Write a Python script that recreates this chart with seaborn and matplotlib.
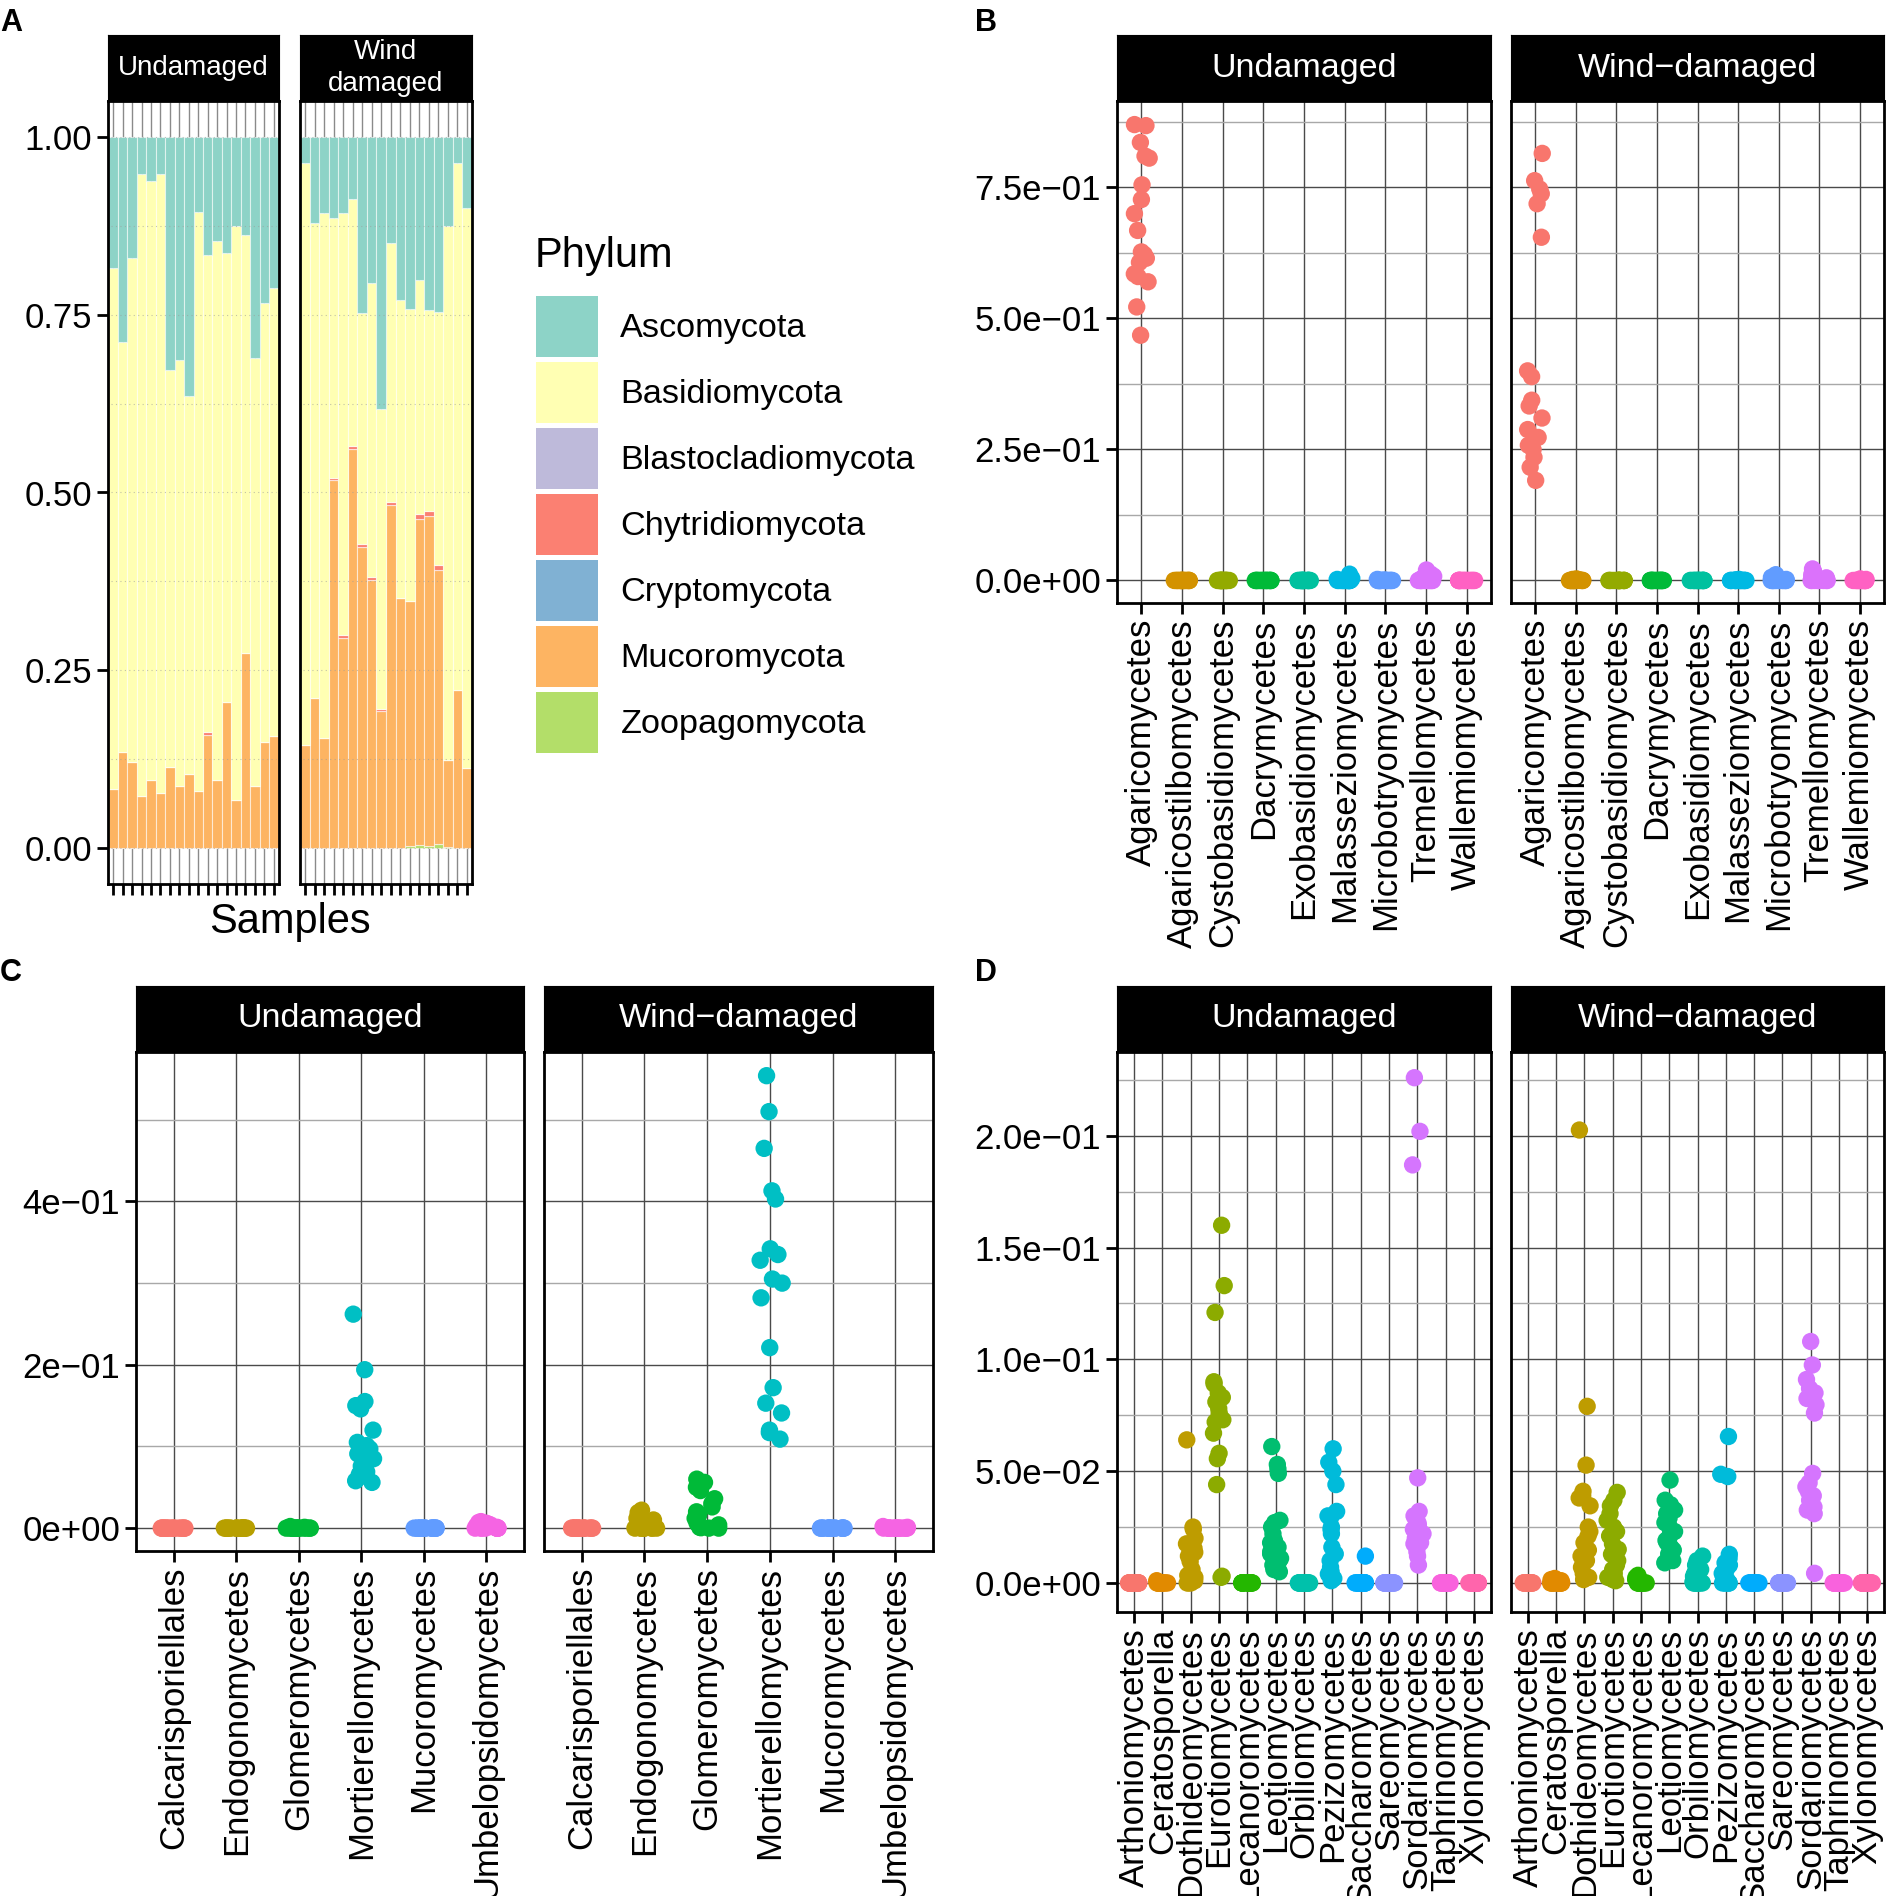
import numpy as np
import pandas as pd
import matplotlib
matplotlib.use("Agg")
import matplotlib.pyplot as plt
from matplotlib.patches import Patch
import seaborn as sns

# ---------------- Panel A: abundancia relativa por filo (18 muestras por grupo)
phyla = ["Ascomycota", "Basidiomycota", "Blastocladiomycota", "Chytridiomycota",
         "Cryptomycota", "Mucoromycota", "Zoopagomycota"]
phylum_colors = ["#8DD3C7", "#FFFFB3", "#BEBADA", "#FB8072", "#80B1D3", "#FDB462", "#B3DE69"]

und_asco = [0.185, 0.289, 0.171, 0.053, 0.062, 0.052, 0.328, 0.314, 0.365,
            0.106, 0.167, 0.147, 0.163, 0.126, 0.138, 0.311, 0.234, 0.213]
und_basidio = [0.732, 0.575, 0.708, 0.874, 0.842, 0.870, 0.558, 0.598, 0.531,
               0.814, 0.670, 0.757, 0.632, 0.806, 0.588, 0.602, 0.617, 0.629]
und_blasto = [0, 0, 0, 0, 0, 0, 0, 0, 0, 0, 0, 0, 0, 0, 0, 0, 0, 0]
und_chytrid = [0, 0, 0, 0, 0, 0, 0, 0, 0, 0, 0.004, 0, 0, 0, 0, 0, 0, 0]
und_crypto = [0, 0, 0, 0, 0, 0, 0, 0, 0, 0, 0, 0, 0, 0, 0, 0, 0, 0]
und_muco = [0.083, 0.136, 0.121, 0.073, 0.096, 0.078, 0.113, 0.087, 0.104,
            0.080, 0.159, 0.096, 0.205, 0.068, 0.274, 0.087, 0.149, 0.158]
und_zoo = [0, 0, 0, 0, 0, 0, 0.001, 0.001, 0, 0, 0, 0, 0, 0, 0, 0, 0, 0]

wind_asco = [0.037, 0.121, 0.108, 0.114, 0.107, 0.088, 0.248, 0.206, 0.382,
             0.150, 0.230, 0.242, 0.201, 0.244, 0.247, 0.126, 0.037, 0.101]
wind_basidio = [0.818, 0.668, 0.737, 0.366, 0.593, 0.347, 0.325, 0.413, 0.422,
                0.364, 0.418, 0.411, 0.329, 0.282, 0.355, 0.750, 0.740, 0.786]
wind_blasto = [0, 0, 0, 0, 0, 0, 0, 0, 0, 0, 0, 0, 0, 0, 0, 0, 0, 0]
wind_chytrid = [0, 0, 0, 0.002, 0.004, 0.004, 0.004, 0.004, 0.003,
                0.004, 0, 0, 0.007, 0.007, 0.007, 0, 0, 0]
wind_crypto = [0, 0, 0, 0, 0, 0, 0, 0, 0, 0, 0, 0, 0, 0, 0, 0, 0, 0]
wind_muco = [0.145, 0.210, 0.155, 0.518, 0.296, 0.561, 0.423, 0.377, 0.193,
             0.482, 0.352, 0.344, 0.458, 0.464, 0.385, 0.122, 0.223, 0.112]
wind_zoo = [0, 0.001, 0, 0, 0, 0, 0, 0, 0, 0, 0, 0.003, 0.005, 0.003, 0.006, 0.002, 0, 0.001]

a_yticks = [0, 0.25, 0.5, 0.75, 1.0]
a_yticklabels = ["0.00", "0.25", "0.50", "0.75", "1.00"]

# ---------------- Panel B: clases de Basidiomycota
b_classes = ["Agaricomycetes", "Agaricostilbomycetes", "Cystobasidiomycetes", "Dacrymycetes",
             "Exobasidiomycetes", "Malasseziomycetes", "Microbotryomycetes",
             "Tremellomycetes", "Wallemiomycetes"]
b_und = [
    [0.870, 0.868, 0.836, 0.810, 0.806, 0.755, 0.727, 0.700, 0.668, 0.627, 0.622, 0.615, 0.607, 0.585, 0.580, 0.570, 0.522, 0.468],
    [0, 0, 0, 0, 0, 0, 0, 0, 0, 0, 0, 0, 0, 0, 0, 0, 0, 0],
    [0, 0, 0, 0, 0, 0, 0, 0, 0, 0, 0, 0, 0, 0, 0, 0, 0, 0],
    [0, 0, 0, 0, 0, 0, 0, 0, 0, 0, 0, 0, 0, 0, 0, 0, 0, 0],
    [0, 0, 0, 0, 0, 0, 0, 0, 0, 0, 0, 0, 0, 0, 0, 0, 0, 0],
    [0.012, 0.004, 0.002, 0.001, 0, 0, 0, 0, 0, 0, 0, 0, 0, 0, 0, 0, 0, 0],
    [0.002, 0.001, 0, 0, 0, 0, 0, 0, 0, 0, 0, 0, 0, 0, 0, 0, 0, 0],
    [0.020, 0.012, 0.008, 0.004, 0.002, 0.001, 0, 0, 0, 0, 0, 0, 0, 0, 0, 0, 0, 0],
    [0, 0, 0, 0, 0, 0, 0, 0, 0, 0, 0, 0, 0, 0, 0, 0, 0, 0],
]
b_wind = [
    [0.815, 0.763, 0.747, 0.738, 0.719, 0.655, 0.400, 0.389, 0.344, 0.333, 0.310, 0.288, 0.273, 0.258, 0.250, 0.235, 0.216, 0.191],
    [0.003, 0.002, 0.001, 0, 0, 0, 0, 0, 0, 0, 0, 0, 0, 0, 0, 0, 0, 0],
    [0, 0, 0, 0, 0, 0, 0, 0, 0, 0, 0, 0, 0, 0, 0, 0, 0, 0],
    [0, 0, 0, 0, 0, 0, 0, 0, 0, 0, 0, 0, 0, 0, 0, 0, 0, 0],
    [0, 0, 0, 0, 0, 0, 0, 0, 0, 0, 0, 0, 0, 0, 0, 0, 0, 0],
    [0.002, 0.001, 0, 0, 0, 0, 0, 0, 0, 0, 0, 0, 0, 0, 0, 0, 0, 0],
    [0.011, 0.006, 0.003, 0.002, 0.001, 0, 0, 0, 0, 0, 0, 0, 0, 0, 0, 0, 0, 0],
    [0.022, 0.020, 0.018, 0.015, 0.012, 0.008, 0.005, 0.003, 0.002, 0.001, 0, 0, 0, 0, 0, 0, 0, 0],
    [0.003, 0.002, 0.001, 0, 0, 0, 0, 0, 0, 0, 0, 0, 0, 0, 0, 0, 0, 0],
]
b_yticks = [0, 0.25, 0.5, 0.75]
b_yticklabels = ["0.0e+00", "2.5e\u221201", "5.0e\u221201", "7.5e\u221201"]

# ---------------- Panel C: clases de Mucoromycota
c_classes = ["Calcarisporiellales", "Endogonomycetes", "Glomeromycetes",
             "Mortierellomycetes", "Mucoromycetes", "Umbelopsidomycetes"]
c_und = [
    [0, 0, 0, 0, 0, 0, 0, 0, 0, 0, 0, 0, 0, 0, 0, 0, 0, 0],
    [0, 0, 0, 0, 0, 0, 0, 0, 0, 0, 0, 0, 0, 0, 0, 0, 0, 0],
    [0.002, 0.001, 0, 0, 0, 0, 0, 0, 0, 0, 0, 0, 0, 0, 0, 0, 0, 0],
    [0.262, 0.194, 0.155, 0.150, 0.146, 0.120, 0.105, 0.101, 0.097, 0.091, 0.085, 0.080, 0.076, 0.069, 0.066, 0.063, 0.058, 0.056],
    [0, 0, 0, 0, 0, 0, 0, 0, 0, 0, 0, 0, 0, 0, 0, 0, 0, 0],
    [0.008, 0.007, 0.006, 0.005, 0.004, 0.003, 0.002, 0.001, 0, 0, 0, 0, 0, 0, 0, 0, 0, 0],
]
c_wind = [
    [0, 0, 0, 0, 0, 0, 0, 0, 0, 0, 0, 0, 0, 0, 0, 0, 0, 0],
    [0.022, 0.019, 0.015, 0.012, 0.010, 0.008, 0.006, 0.004, 0.002, 0.001, 0, 0, 0, 0, 0, 0, 0, 0],
    [0.060, 0.056, 0.050, 0.046, 0.036, 0.030, 0.026, 0.020, 0.016, 0.012, 0.009, 0.006, 0.004, 0.002, 0.001, 0.0005, 0, 0],
    [0.554, 0.510, 0.465, 0.413, 0.403, 0.342, 0.335, 0.328, 0.305, 0.300, 0.282, 0.221, 0.172, 0.153, 0.141, 0.120, 0.117, 0.109],
    [0, 0, 0, 0, 0, 0, 0, 0, 0, 0, 0, 0, 0, 0, 0, 0, 0, 0],
    [0.002, 0.001, 0, 0, 0, 0, 0, 0, 0, 0, 0, 0, 0, 0, 0, 0, 0, 0],
]
c_yticks = [0, 0.2, 0.4]
c_yticklabels = ["0e+00", "2e\u221201", "4e\u221201"]

# ---------------- Panel D: clases de Ascomycota
d_classes = ["Arthoniomycetes", "Ceratosporella", "Dothideomycetes", "Eurotiomycetes",
             "Lecanoromycetes", "Leotiomycetes", "Orbiliomycetes", "Pezizomycetes",
             "Saccharomycetes", "Sareomycetes", "Sordariomycetes", "Taphrinomycetes",
             "Xylonomycetes"]
d_und = [
    [0, 0, 0, 0, 0, 0, 0, 0, 0, 0, 0, 0, 0, 0, 0, 0, 0, 0],
    [0.001, 0, 0, 0, 0, 0, 0, 0, 0, 0, 0, 0, 0, 0, 0, 0, 0, 0],
    [0.064, 0.025, 0.024, 0.020, 0.0175, 0.0156, 0.0137, 0.012, 0.0096, 0.006, 0.0034, 0.0025, 0.0015, 0.001, 0.0005, 0, 0, 0],
    [0.160, 0.133, 0.121, 0.090, 0.089, 0.085, 0.083, 0.081, 0.078, 0.076, 0.073, 0.072, 0.067, 0.058, 0.0556, 0.044, 0.003, 0.0025],
    [0, 0, 0, 0, 0, 0, 0, 0, 0, 0, 0, 0, 0, 0, 0, 0, 0, 0],
    [0.061, 0.053, 0.051, 0.049, 0.028, 0.027, 0.025, 0.022, 0.019, 0.018, 0.016, 0.014, 0.013, 0.011, 0.010, 0.008, 0.006, 0.005],
    [0, 0, 0, 0, 0, 0, 0, 0, 0, 0, 0, 0, 0, 0, 0, 0, 0, 0],
    [0.060, 0.054, 0.050, 0.044, 0.032, 0.030, 0.029, 0.025, 0.024, 0.022, 0.016, 0.013, 0.010, 0.007, 0.005, 0.004, 0.002, 0.001],
    [0.012, 0, 0, 0, 0, 0, 0, 0, 0, 0, 0, 0, 0, 0, 0, 0, 0, 0],
    [0, 0, 0, 0, 0, 0, 0, 0, 0, 0, 0, 0, 0, 0, 0, 0, 0, 0],
    [0.226, 0.202, 0.187, 0.047, 0.032, 0.030, 0.029, 0.027, 0.026, 0.024, 0.023, 0.022, 0.020, 0.018, 0.0175, 0.014, 0.012, 0.008],
    [0, 0, 0, 0, 0, 0, 0, 0, 0, 0, 0, 0, 0, 0, 0, 0, 0, 0],
    [0, 0, 0, 0, 0, 0, 0, 0, 0, 0, 0, 0, 0, 0, 0, 0, 0, 0],
]
d_wind = [
    [0, 0, 0, 0, 0, 0, 0, 0, 0, 0, 0, 0, 0, 0, 0, 0, 0, 0],
    [0.002, 0.0015, 0.001, 0.001, 0.0005, 0, 0, 0, 0, 0, 0, 0, 0, 0, 0, 0, 0, 0],
    [0.2026, 0.079, 0.0527, 0.041, 0.039, 0.038, 0.0345, 0.025, 0.023, 0.021, 0.018, 0.0147, 0.012, 0.010, 0.007, 0.0043, 0.0025, 0.0015],
    [0.0405, 0.037, 0.0345, 0.031, 0.028, 0.025, 0.023, 0.021, 0.0175, 0.015, 0.0128, 0.010, 0.008, 0.006, 0.0043, 0.0025, 0.0015, 0.001],
    [0.0034, 0.0025, 0.0015, 0.001, 0.0005, 0, 0, 0, 0, 0, 0, 0, 0, 0, 0, 0, 0, 0],
    [0.046, 0.037, 0.035, 0.0326, 0.031, 0.029, 0.027, 0.025, 0.023, 0.021, 0.019, 0.018, 0.016, 0.0147, 0.013, 0.012, 0.010, 0.009],
    [0.012, 0.010, 0.008, 0.006, 0.0043, 0.003, 0.0015, 0.001, 0.0005, 0, 0, 0, 0, 0, 0, 0, 0, 0],
    [0.0655, 0.0486, 0.0476, 0.0128, 0.011, 0.009, 0.008, 0.006, 0.0043, 0.003, 0.0015, 0.001, 0, 0, 0, 0, 0, 0],
    [0, 0, 0, 0, 0, 0, 0, 0, 0, 0, 0, 0, 0, 0, 0, 0, 0, 0],
    [0, 0, 0, 0, 0, 0, 0, 0, 0, 0, 0, 0, 0, 0, 0, 0, 0, 0],
    [0.108, 0.0975, 0.091, 0.087, 0.085, 0.0825, 0.0797, 0.076, 0.049, 0.0448, 0.043, 0.041, 0.039, 0.037, 0.034, 0.0326, 0.031, 0.0043],
    [0, 0, 0, 0, 0, 0, 0, 0, 0, 0, 0, 0, 0, 0, 0, 0, 0, 0],
    [0, 0, 0, 0, 0, 0, 0, 0, 0, 0, 0, 0, 0, 0, 0, 0, 0, 0],
]
d_yticks = [0, 0.05, 0.1, 0.15, 0.2]
d_yticklabels = ["0.0e+00", "5.0e\u221202", "1.0e\u221201", "1.5e\u221201", "2.0e\u221201"]


def hue_pal(n):
    # paleta por defecto de ggplot2 (hcl, l=65, c=100)
    Xn, Yn, Zn = 95.047, 100.0, 108.883
    un = 4 * Xn / (Xn + 15 * Yn + 3 * Zn)
    vn = 9 * Yn / (Xn + 15 * Yn + 3 * Zn)
    L, C = 65.0, 100.0
    cols = []
    for h in 15 + np.arange(n) * 360.0 / n:
        u, v = C * np.cos(np.radians(h)), C * np.sin(np.radians(h))
        Y = Yn * ((L + 16) / 116) ** 3
        up, vp = u / (13 * L) + un, v / (13 * L) + vn
        X = Y * 9 * up / (4 * vp)
        Z = Y * (12 - 3 * up - 20 * vp) / (4 * vp)
        X, Y, Z = X / 100, Y / 100, Z / 100
        rgb = [3.2404542 * X - 1.5371385 * Y - 0.4985314 * Z,
               -0.9692660 * X + 1.8760108 * Y + 0.0415560 * Z,
               0.0556434 * X - 0.2040259 * Y + 1.0572252 * Z]
        rgb = [12.92 * c if c <= 0.0031308 else 1.055 * c ** (1 / 2.4) - 0.055 for c in rgb]
        cols.append(tuple(np.clip(rgb, 0, 1)))
    return cols


plt.rcParams["font.family"] = ["Liberation Sans", "DejaVu Sans"]
W, H = 1892, 1896
fig = plt.figure(figsize=(W / 100, H / 100), dpi=100)
TICK_FS = 25


def add_ax(x0, y0, x1, y1):
    return fig.add_axes([x0 / W, 1 - y1 / H, (x1 - x0) / W, (y1 - y0) / H])


def add_strip(x0, x1, y0, y1, text, size, spacing=1.0):
    s = add_ax(x0, y0, x1, y1)
    s.set_facecolor("black")
    s.set_xticks([])
    s.set_yticks([])
    for sp in s.spines.values():
        sp.set_color("black")
    s.text(0.5, 0.5, text, color="white", fontsize=size, ha="center", va="center",
           linespacing=spacing, transform=s.transAxes)


def style_frame(ax):
    for sp in ax.spines.values():
        sp.set_color("black")
        sp.set_linewidth(2.0)
    ax.tick_params(axis="both", which="major", length=8, width=2, color="black")
    ax.tick_params(which="minor", length=0)


# ---------------- Panel A
strip_y = (35, 101)
a_boxes = [(108, 101, 279, 884), (300, 101, 472, 884)]
a_data = [
    [und_asco, und_basidio, und_blasto, und_chytrid, und_crypto, und_muco, und_zoo],
    [wind_asco, wind_basidio, wind_blasto, wind_chytrid, wind_crypto, wind_muco, wind_zoo],
]
a_titles = ["Undamaged", "Wind\ndamaged"]
for k, (box, series) in enumerate(zip(a_boxes, a_data)):
    ax = add_ax(*box)
    rows = []
    for p, vals in zip(phyla, series):
        for i, v in enumerate(vals):
            rows.append({"sample": i, "phylum": p, "abundance": v})
    df = pd.DataFrame(rows)
    sns.histplot(data=df, x="sample", weights="abundance", hue="phylum",
                 hue_order=phyla, palette=phylum_colors, multiple="stack",
                 discrete=True, shrink=1, alpha=1, edgecolor=(1, 1, 1, 0.55),
                 linewidth=0.8, legend=False, ax=ax)
    ax.set_xlim(-0.55, 17.55)
    ax.set_ylim(-0.05, 1.05)
    ax.set_xticks(range(18))
    ax.set_xticklabels([])
    ax.set_yticks(a_yticks)
    ax.set_axisbelow(True)
    ax.grid(axis="x", color="#8a8a8a", linewidth=1.0)
    ax.grid(axis="y", visible=False)
    for yv in np.arange(0, 1.01, 0.125):
        ax.axhline(yv, xmin=0.02, xmax=0.98, color="#9a9a9a", linestyle=(0, (1, 3)),
                   linewidth=0.8, alpha=0.6, zorder=5)
    ax.set_xlabel("")
    ax.set_ylabel("")
    style_frame(ax)
    if k == 0:
        ax.set_yticklabels(a_yticklabels, fontsize=TICK_FS)
    else:
        ax.tick_params(axis="y", left=False, labelleft=False)
    add_strip(box[0], box[2], strip_y[0], strip_y[1], a_titles[k], 20, spacing=1.3)

fig.text(290 / W, 1 - 922 / H, "Samples", fontsize=30, ha="center", va="center")

fig.text(535 / W, 1 - 256 / H, "Phylum", fontsize=30, ha="left", va="center")
handles = [Patch(facecolor=c, edgecolor="none", label=p) for p, c in zip(phyla, phylum_colors)]
leg = fig.legend(handles=handles, loc="upper left",
                 bbox_to_anchor=(536 / W, 1 - 296 / H), frameon=False, fontsize=24.7,
                 handlelength=1.8, handleheight=2.35,
                 labelspacing=0.15, handletextpad=0.66, borderaxespad=0, borderpad=0)


# ---------------- Paneles B, C, D (puntos con jitter)
np.random.seed(7)


def strip_panel(box_und, box_wind, classes, und, wind, ylim, yticks, yticklabels, minor):
    colors = hue_pal(len(classes))
    n = len(classes)
    for k, (box, data) in enumerate([(box_und, und), (box_wind, wind)]):
        ax = add_ax(*box)
        rows = []
        for c, vals in zip(classes, data):
            for v in vals:
                rows.append({"cls": c, "val": v})
        df = pd.DataFrame(rows)
        sns.stripplot(data=df, x="cls", y="val", hue="cls", order=classes,
                      hue_order=classes, palette=colors, jitter=0.2, size=12.5,
                      linewidth=0, legend=False, ax=ax, zorder=3)
        ax.set_xlim(-0.6, n - 1 + 0.6)
        ax.set_ylim(*ylim)
        ax.set_yticks(yticks)
        ax.set_yticks(minor, minor=True)
        ax.set_axisbelow(True)
        ax.grid(which="major", axis="both", color="#4a4a4a", linewidth=1.0)
        ax.grid(which="minor", axis="y", color="#a8a8a8", linewidth=1.0)
        ax.set_xlabel("")
        ax.set_ylabel("")
        style_frame(ax)
        ax.set_xticks(range(n))
        ax.set_xticklabels(classes, rotation=90, fontsize=TICK_FS)
        if k == 0:
            ax.set_yticklabels(yticklabels, fontsize=TICK_FS)
        else:
            ax.tick_params(axis="y", left=False, labelleft=False)
        title = "Undamaged" if k == 0 else "Wind\u2212damaged"
        add_strip(box[0], box[2], box[1] - 66, box[1], title, 24.5)


strip_panel((1117, 101, 1491, 603), (1511, 101, 1884, 603), b_classes, b_und, b_wind,
            (-0.043, 0.915), b_yticks, b_yticklabels, [0.125, 0.375, 0.625, 0.875])
strip_panel((136, 1052, 524, 1551), (544, 1052, 933, 1551), c_classes, c_und, c_wind,
            (-0.028, 0.583), c_yticks, c_yticklabels, [0.1, 0.3, 0.5])
strip_panel((1117, 1052, 1491, 1612), (1511, 1052, 1884, 1612), d_classes, d_und, d_wind,
            (-0.013, 0.2375), d_yticks, d_yticklabels, [0.025, 0.075, 0.125, 0.175, 0.225])

for lab, x, y in [("A", 0, 8), ("B", 975, 8), ("C", 0, 958), ("D", 975, 958)]:
    fig.text(x / W, 1 - y / H, lab, fontsize=22, fontweight="bold", ha="left", va="top")

fig.savefig("out.png", dpi=100)
